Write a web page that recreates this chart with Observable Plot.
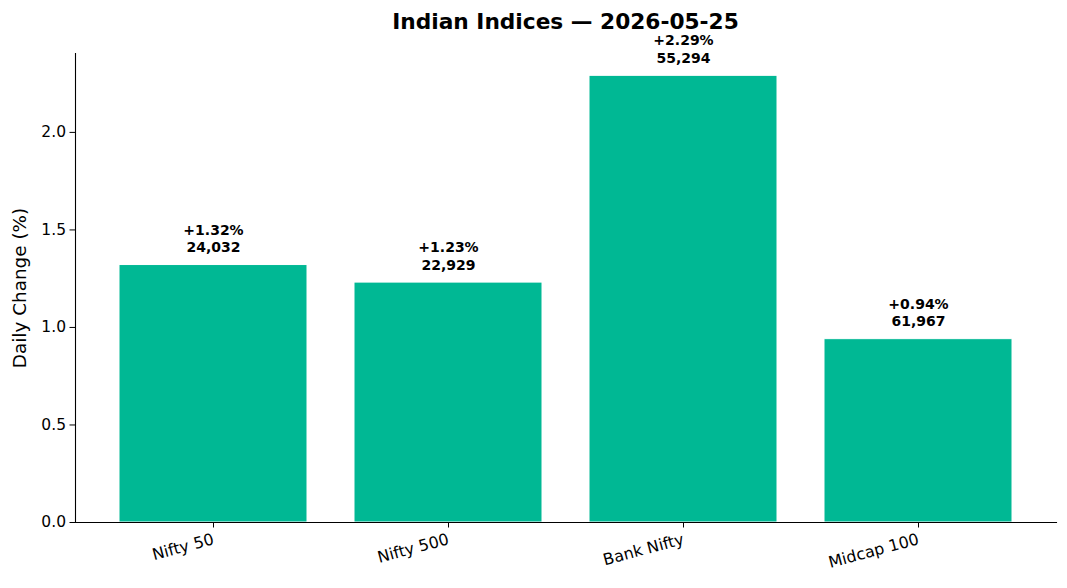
<!DOCTYPE html>
<html>
<head>
<meta charset="utf-8">
<script src="https://cdn.jsdelivr.net/npm/d3@7"></script>
<script src="https://cdn.jsdelivr.net/npm/@observablehq/plot@0.6"></script>
<style>
  body { margin: 0; background: #fff; font-family: "DejaVu Sans", sans-serif; }
  #title { position: relative; z-index: 2; width: 981px; margin-left: 75px; height: 40px; line-height: 43px; text-align: center;
           font-weight: bold; font-size: 21.7px; color: #000; }
  #chart { position: relative; z-index: 1; }
  #chart svg { overflow: visible; }
</style>
</head>
<body>
<div id="title">Indian Indices — 2026-05-25</div>
<div id="chart"></div>
<script>
const indices = ["Nifty 50", "Nifty 500", "Bank Nifty", "Midcap 100"];
const changes = [1.32, 1.23, 2.29, 0.94];
const levels = [24032, 22929, 55294, 61967];
const yTicks = [0, 0.5, 1.0, 1.5, 2.0];

const data = indices.map((name, i) => ({
  name, change: changes[i], level: levels[i],
  label: (changes[i] >= 0 ? "+" : "") + changes[i].toFixed(2) + "%\n" + d3.format(",")(levels[i])
}));

const chart = Plot.plot({
  width: 1067,
  height: 548,
  marginLeft: 75,
  marginRight: 11,
  marginTop: 13,
  marginBottom: 66,
  style: { fontFamily: "DejaVu Sans, sans-serif", fontSize: "15.5px", color: "#000", background: "transparent", overflow: "visible" },
  x: { domain: indices, paddingInner: 0.2, paddingOuter: 0.187, align: 0.5 },
  y: { domain: [0, 2.4045] },
  marks: [
    Plot.barY(data, { x: "name", y: "change", fill: "#00b894", stroke: "#ffffff", strokeWidth: 1 }),
    Plot.text(data, { x: "name", y: "change", text: "label", lineAnchor: "bottom", dy: -13,
                      fontWeight: "bold", fontSize: 14, lineHeight: 1.25, fill: "#000" }),
    Plot.axisY({ ticks: yTicks, tickFormat: d3.format(".1f"), tickSize: 5.5, tickPadding: 4,
                 stroke: "#000", label: null, fontSize: 15.5 }),
    Plot.axisY({ ticks: [], label: "Daily Change (%)", labelAnchor: "center",
                 labelArrow: "none", labelOffset: 63, fontSize: 18.4 }),
    Plot.axisX({ tickSize: 5.5, tickPadding: 11, tickRotate: -15, stroke: "#000",
                 label: null, fontSize: 16 }),
    Plot.frame({ anchor: "left", stroke: "#000", strokeWidth: 1.1 }),
    Plot.frame({ anchor: "bottom", stroke: "#000", strokeWidth: 1.1 })
  ]
});
document.getElementById("chart").appendChild(chart);
</script>
</body>
</html>
